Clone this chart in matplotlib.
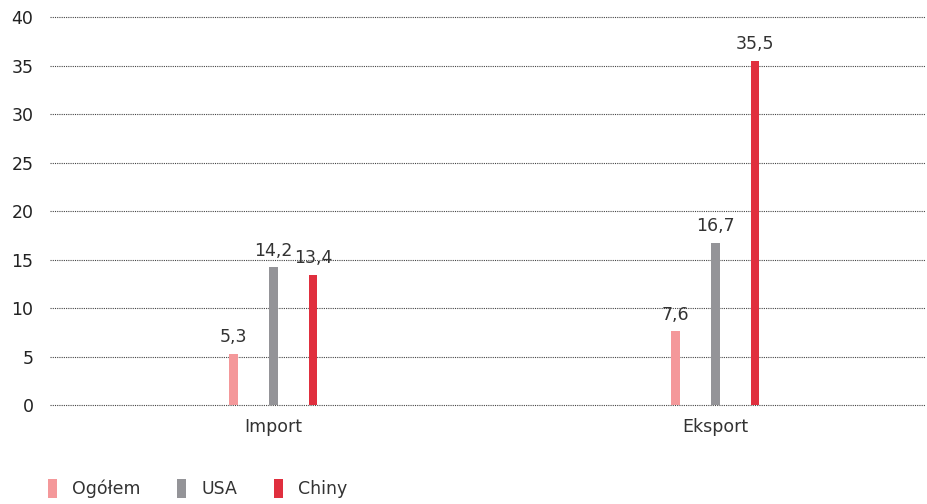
import matplotlib.pyplot as plt
from matplotlib.patches import Patch

# Data
categories = ["Import", "Eksport"]
series_names = ["Ogółem", "USA", "Chiny"]
ogolem = [5.3, 7.6]
usa = [14.2, 16.7]
chiny = [13.4, 35.5]
y_ticks = [0, 5, 10, 15, 20, 25, 30, 35, 40]

colors = ["#F4989A", "#949498", "#E02F3E"]
offsets = [-0.09, 0.0, 0.09]
bar_width = 0.02

fig = plt.figure(figsize=(9.27, 5.04), dpi=100)
ax = fig.add_axes([0.054, 0.196, 0.944, 0.770])

x = list(range(len(categories)))
for values, off, color in zip([ogolem, usa, chiny], offsets, colors):
    xs = [xi + off for xi in x]
    ax.bar(xs, values, width=bar_width, color=color, zorder=3)
    for xi, v in zip(xs, values):
        ax.text(xi, v + 0.8, f"{v:.1f}".replace(".", ","), ha="center", va="bottom",
                fontsize=12.5, color="#333333")

ax.set_xlim(-0.505, 1.475)
ax.set_ylim(0, 40)
ax.set_yticks(y_ticks)
ax.set_yticklabels([str(t) for t in y_ticks], fontsize=12.5, color="#222222")
ax.set_xticks(x)
ax.set_xticklabels(categories, fontsize=12.5, color="#333333")
ax.tick_params(axis="both", length=0)
ax.tick_params(axis="y", pad=12)
ax.tick_params(axis="x", pad=9)

for s in ax.spines.values():
    s.set_visible(False)
ax.yaxis.grid(True, linestyle=(0, (1, 1)), color="#444444", linewidth=0.8, zorder=0)
for gl in ax.get_ygridlines():
    gl.set_clip_on(False)

# legend at bottom (reference crops it; keep it just inside the frame)
handles = [Patch(facecolor=c, edgecolor="none") for c in colors]
fig.legend(handles, series_names, loc="lower left", bbox_to_anchor=(0.035, -0.02),
           ncol=3, frameon=False, fontsize=12.5, handlelength=0.5, handleheight=1.3,
           handletextpad=0.9, columnspacing=2.1, labelcolor="#333333")

fig.savefig("out.png", dpi=100)
